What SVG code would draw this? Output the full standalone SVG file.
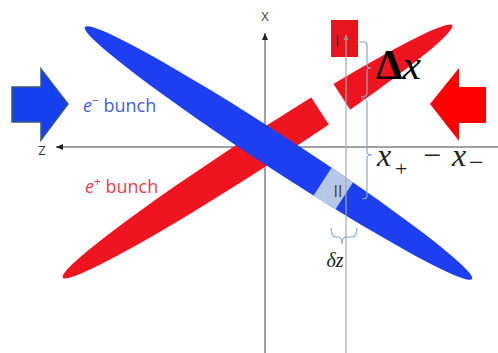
<svg xmlns="http://www.w3.org/2000/svg" width="498" height="353" viewBox="0 0 498 353">
<style>
.axis{stroke:#444;stroke-width:1;fill:none}
.brace{stroke:#8ea6cf;stroke-width:1.2;fill:none}
.lbl{font-family:"Open Sans","Liberation Sans",sans-serif}
.math{font-family:"Liberation Serif","DejaVu Serif",serif}
</style>
<defs>
<marker id="ah" markerWidth="8" markerHeight="8" refX="7" refY="4" orient="auto" markerUnits="userSpaceOnUse">
<path d="M0,1 L7,4 L0,7 Z" fill="#222"/>
</marker>
<marker id="ahs" markerWidth="6" markerHeight="6" refX="5" refY="3" orient="auto" markerUnits="userSpaceOnUse">
<path d="M0,0.5 L5,3 L0,5.5 Z" fill="#999"/>
</marker>
<clipPath id="gap"><rect x="0" y="0" width="332" height="353"/><rect x="358" y="0" width="140" height="353"/></clipPath>
<clipPath id="slice"><rect x="331" y="0" width="26" height="353"/></clipPath>
</defs>
<rect width="498" height="353" fill="#fff"/>
<g id="connectors">
<line class="axis" x1="498" y1="147" x2="56" y2="147" marker-end="url(#ah)"/>
<line class="axis" x1="265" y1="353" x2="265" y2="33" stroke="#666" marker-end="url(#ah)"/>
</g>
<g id="positron-bunch">
<ellipse cx="257.5" cy="151.5" rx="232" ry="17" transform="rotate(-32.95 257.5 151.5)" fill="#ef1520" clip-path="url(#gap)"/>
</g>
<g id="electron-bunch">
<ellipse cx="278.5" cy="153" rx="231" ry="17" transform="rotate(33.07 278.5 153)" fill="#1d3ff0"/>
<ellipse cx="278.5" cy="153" rx="231" ry="17" transform="rotate(33.07 278.5 153)" fill="#b6c7e8" clip-path="url(#slice)"/>
<text x="338" y="197" class="lbl" font-size="16" fill="#444" text-anchor="middle">II</text>
</g>
<g id="slice-I">
<rect x="331" y="20" width="27" height="37" fill="#e8141e"/>
<text x="337" y="47" class="lbl" font-size="16" fill="#333" text-anchor="middle">I</text>
</g>
<g id="marker-line">
<line x1="346" y1="353" x2="346" y2="35" stroke="#a8a8a8" stroke-width="1.2" marker-end="url(#ahs)"/>
</g>
<g id="braces">
<path class="brace" d="M359,42 H364 Q367,42 367,45 V65 Q367,68 371,68 Q367,68 367,71 V93 Q367,97 361,97"/>
<path class="brace" d="M362,99 Q367,99 367,102 V152 Q367,155 372,155 Q367,155 367,158 V196 Q367,199 362,199"/>
<path class="brace" d="M331,228 Q331,237 336,237 H338 Q342,237 342,244 Q342,237 346,237 H352 Q357,237 357,228"/>
</g>
<g id="labels">
<text x="265" y="21" class="lbl" font-size="13" fill="#444" text-anchor="middle">X</text>
<text x="42" y="155" class="lbl" font-size="13" fill="#333" text-anchor="middle">Z</text>
<text x="83" y="112" class="lbl" font-size="18" fill="#4a5ce0"><tspan font-style="italic">e</tspan><tspan dy="-7" font-size="12">−</tspan><tspan dy="7"> bunch</tspan></text>
<text x="85" y="193" class="lbl" font-size="18" fill="#e8404c"><tspan font-style="italic">e</tspan><tspan dy="-7" font-size="12">+</tspan><tspan dy="7"> bunch</tspan></text>
<text x="376" y="79" class="math" font-size="42" fill="#000"><tspan font-weight="bold">Δ</tspan><tspan font-style="italic">x</tspan></text>
<text y="166" class="math" font-size="32" fill="#222"><tspan x="377" font-style="italic">x</tspan><tspan x="395" y="176" font-size="22">+</tspan><tspan x="423" y="166">−</tspan><tspan x="452" font-style="italic">x</tspan><tspan x="469" y="171" font-size="26">−</tspan></text>
<text x="335" y="267" class="math" font-size="20" font-style="italic" fill="#222" text-anchor="middle">δz</text>
</g>
<g id="arrow-left">
<path d="M12,87 H41 V69 L68,104 L41,140 V122 H12 Z" fill="#1540ee" stroke="#3a5878" stroke-width="1.5"/>
</g>
<g id="arrow-right">
<path d="M486,87 H459 V68 L430,104 L459,141 V123 H486 Z" fill="#ff0000"/>
</g>
</svg>
